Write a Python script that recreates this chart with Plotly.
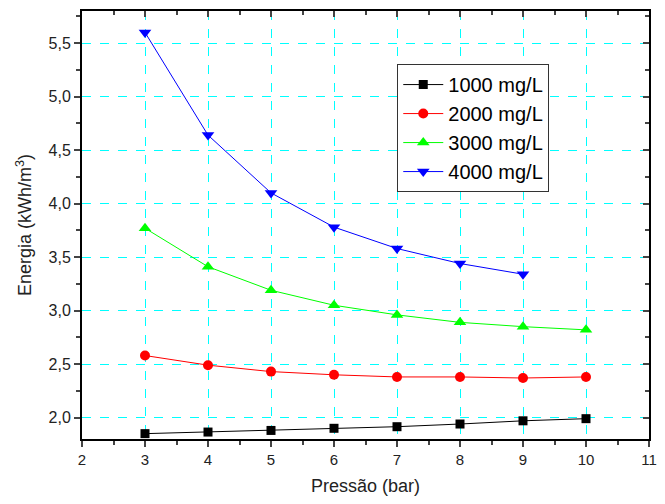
import plotly.graph_objects as go

pressao = [3, 4, 5, 6, 7, 8, 9, 10]
e1000 = [1.85, 1.865, 1.88, 1.90, 1.915, 1.94, 1.97, 1.99]
e2000 = [2.58, 2.49, 2.43, 2.40, 2.38, 2.38, 2.37, 2.38]
e3000 = [3.77, 3.41, 3.19, 3.05, 2.96, 2.89, 2.85, 2.82]
pressao4 = [3, 4, 5, 6, 7, 8, 9]
e4000 = [5.60, 4.64, 4.10, 3.78, 3.58, 3.44, 3.34]

series = [
    ("1000 mg/L", pressao, e1000, "black", "square", 9),
    ("2000 mg/L", pressao, e2000, "red", "circle", 10),
    ("3000 mg/L", pressao, e3000, "#00ff00", "triangle-up", 11),
    ("4000 mg/L", pressao4, e4000, "blue", "triangle-down", 11),
]

fig = go.Figure()
for name, x, y, c, sym, sz in series:
    fig.add_trace(go.Scatter(x=x, y=y, name=name, mode="lines+markers",
                             line=dict(color=c, width=1),
                             marker=dict(color=c, symbol=sym, size=sz)))

font = "Liberation Sans, Arial, sans-serif"
grid = dict(showgrid=True, gridcolor="#00ffff", griddash="dash", gridwidth=1)
fig.update_layout(
    width=665, height=504,
    margin=dict(l=82, r=8, t=11, b=65),
    paper_bgcolor="white", plot_bgcolor="white",
    separators=",.",
    font=dict(family=font, size=16, color="#222"),
    showlegend=True,
    legend=dict(x=0.556, y=0.876, xanchor="left", yanchor="top",
                bordercolor="#333", borderwidth=1, bgcolor="white",
                font=dict(size=20, family=font, color="black"),
                tracegroupgap=0, itemwidth=40),
    xaxis=dict(range=[2, 11], dtick=1, tick0=2, ticks="outside", ticklen=6, tickwidth=2,
               showline=True, linecolor="black", linewidth=2, zeroline=False,
               ticklabeloverflow="allow",
               minor=dict(dtick=0.5, ticks="outside", ticklen=4, tickwidth=1.5, showgrid=False),
               title=dict(text="Pressão (bar)", font=dict(size=18), standoff=12),
               tickfont=dict(size=15), **grid),
    yaxis=dict(range=[1.8, 5.8], dtick=0.5, tick0=2, tickformat=".1f", ticks="outside", ticklen=6,
               tickwidth=2, showline=True, linecolor="black", linewidth=2, zeroline=False,
               minor=dict(dtick=0.25, ticks="outside", ticklen=4, tickwidth=1.5, showgrid=False),
               title=dict(text="Energia (kWh/m<sup>3</sup>)", font=dict(size=18), standoff=12),
               tickfont=dict(size=16), **grid),
    xaxis2=dict(range=[2, 11], dtick=1, tick0=2, overlaying="x", side="top", ticks="inside",
                ticklen=6, tickwidth=2, showticklabels=False, showgrid=False, zeroline=False,
                showline=True, linecolor="black", linewidth=2,
                minor=dict(dtick=0.5, ticks="inside", ticklen=4, tickwidth=1.5)),
    yaxis2=dict(range=[1.8, 5.8], dtick=0.5, tick0=2, overlaying="y", side="right", ticks="inside",
                ticklen=6, tickwidth=2, showticklabels=False, showgrid=False, zeroline=False,
                showline=True, linecolor="black", linewidth=2,
                minor=dict(dtick=0.25, ticks="inside", ticklen=4, tickwidth=1.5)),
)
fig.add_trace(go.Scatter(x=[None], y=[None], xaxis="x2", yaxis="y2", showlegend=False,
                         hoverinfo="skip"))
fig.write_html("out.html")
